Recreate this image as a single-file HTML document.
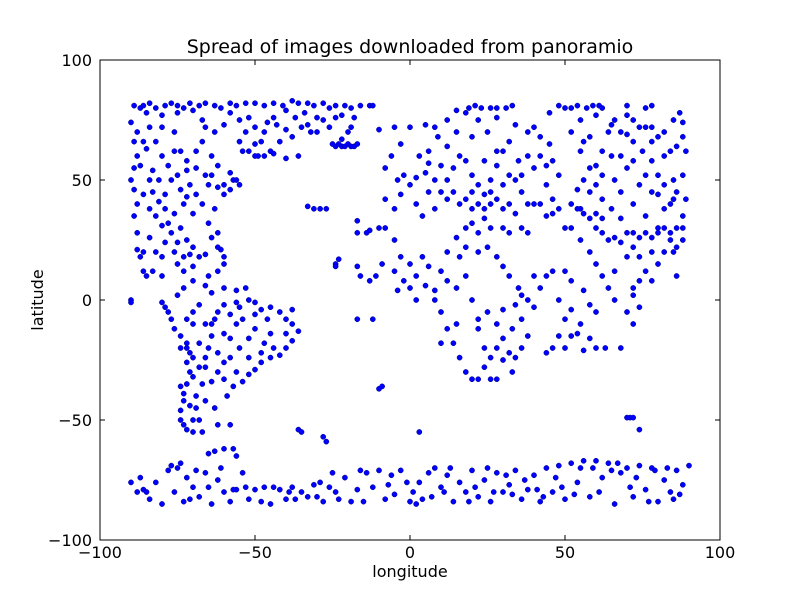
<!DOCTYPE html>
<html><head><meta charset="utf-8"><style>
html,body{margin:0;padding:0;background:#fff;}
svg{display:block;font-family:"DejaVu Sans","Liberation Sans",sans-serif;}
</style></head><body>
<svg id="chart" width="800" height="600" viewBox="0 0 800 600">
<rect x="0" y="0" width="800" height="600" fill="#fff"/>
<text x="410" y="53" text-anchor="middle" font-size="19">Spread of images downloaded from panoramio</text>
<text x="410" y="577" text-anchor="middle" font-size="16">longitude</text>
<text x="43" y="300" text-anchor="middle" font-size="16" transform="rotate(-90 43 300)">latitude</text>
<g id="points"></g>
<g id="axes"></g>
</svg>
<script>
const xTicks=[-100,-50,0,50,100];
const yTicks=[-100,-50,0,50,100];
const northBand=[[-89,81],[-87,80],[-86,81],[-84,82],[-82,80],[-79,81],[-77,82],[-75,81],[-73,80],[-71,82],[-68,81],[-66,82],[-63,81],[-61,80],[-58,82],[-56,81],[-53,82],[-50,82],[-47,81],[-44,82],[-41,81],[-38,83],[-36,82],[-33,82],[-31,81],[-28,82],[-26,80],[-24,81],[-21,81],[-19,80],[-16,81],[-13,81],[-12,81],[19,80],[21,81],[23,80],[26,80],[28,80],[31,80],[33,81],[48,81],[50,80],[52,80],[54,81],[57,80],[59,81],[61,81],[62,80],[70,81],[76,80],[78,81],
[-85,78],[-80,77],[-75,78],[-70,79],[-66,72],[-60,73],[-55,75],[-50,72],[-47,70],[-43,73],[-40,71],[-37,76],[-33,73],[-30,70],[-28,75],[-22,77],[-19,72],[-10,71],[-5,72],[0,72],[5,73],[12,75],[15,79],[18,78],[22,75],[28,76],[34,73],[40,72],[45,78],[55,75],[60,77],[65,73],[70,77],[72,75],[78,72],[85,75],[88,74],[82,70],[87,78]];
const northAmerica=[[-90,74],[-89,66],[-88,60],[-89,55],[-90,50],[-89,46],[-88,40],[-89,35],[-88,28],[-88,21],[-87,18],[-86,12],[-85,10],[-90,0],[-90,-1],[-88,70],[-87,56],
[-84,72],[-82,66],[-80,60],[-83,54],[-81,50],[-79,44],[-84,38],[-82,35],[-80,31],[-77,28],[-79,24],[-76,20],[-83,12],[-80,10],[-76,70],[-74,62],[-72,58],[-75,52],[-71,48],[-73,40],[-70,36],[-74,30],[-72,25],[-68,18],[-70,14],[-65,10],[-67,66],[-64,60],[-66,52],[-62,47],[-60,44],[-63,38],[-65,32],[-62,22],[-60,18],[-57,50],[-55,48],[-58,53],[-67,75],[-63,70],[-69,62],[-78,56],[-86,44],[-77,50],[-72,43],[-69,55],[-65,48],[-71,19],[-66,19],[-61,21],[-60,15],[-62,12],[-75,15],[-73,12],
[-53,70],[-50,65],[-47,60],[-45,62],[-42,66],[-40,59],[-38,68],[-35,72],[-32,70],[-30,76],[-46,74],[-52,62],[-55,66],
[-25,65],[-24,64],[-23,65],[-22,64],[-21,64],[-20,65],[-19,64],[-18,64],[-17,65],[-22,67],[-20,70],
[-33,39],[-31,38],[-29,38],[-27,38],[-17,33],[-17,28],[-14,28],[-13,29],[-10,30],[-24,15],[-23,17],[-24,14],[-17,14],[-16,10],[-13,8],
[-85,63],[-83,45],[-81,41],[-79,38],[-76,36],[-74,46],[-72,54],[-69,44],[-67,40],[-64,52],[-62,56],[-60,48],[-58,46],[-56,50],[-54,62],[-49,60],[-44,61],[-36,60],[-75,24],[-73,18],[-70,22],[-80,18],[-82,20],[-86,20],[-84,26],[-78,32],[-62,28],[-64,26],[-76,62],[-80,72],[-86,66],[-84,50],[-58,78],[-52,76],[-44,76],[-40,79],[-34,78],[-26,72],[-24,76],[-18,76],[-48,66],[-50,60]];
const southAmerica=[[-80,-1],[-79,-3],[-78,-5],[-77,-8],[-76,-12],[-74,-15],[-72,-18],[-71,-22],[-72,-26],[-71,-30],[-72,-35],[-73,-39],[-73,-42],[-74,-46],[-74,-50],[-73,-52],[-72,-54],[-70,-55],[-67,-55],[-68,-50],[-69,-45],[-69,-40],[-67,-35],[-68,-28],[-66,-24],[-65,-20],[-64,-15],[-66,-10],[-62,-5],[-60,-2],[-58,-6],[-55,-3],[-52,0],[-50,-1],[-48,-4],[-45,-3],[-42,-5],[-40,-8],[-38,-10],[-36,-13],[-38,-17],[-40,-20],[-42,-23],[-45,-24],[-48,-26],[-50,-29],[-52,-31],[-54,-34],[-57,-36],[-60,-33],[-62,-30],[-58,-24],[-55,-20],[-52,-16],[-50,-12],[-56,-10],[-60,-14],[-63,-8],[-70,-5],[-75,2],[-73,5],[-70,8],[-66,6],[-64,3],[-60,5],[-56,4],[-53,5],[-74,-20],[-70,-32],[-66,-42],[-63,-45],[-62,-52],[-58,-52],[-60,-62],[-63,-63],[-65,-64],[-56,-65],[-57,-62],[-70,-10],[-66,-28],[-59,-40],[-56,-30],[-47,-18],[-45,-14],[-40,-14],[-38,-4],[-36,-54],[-35,-55],[-28,-57],[-27,-59],
[-72,-20],[-70,-24],[-68,-18],[-74,-36],[-71,-44],[-70,-50],[-64,-34],[-62,-22],[-58,-16],[-54,-8],[-50,-6],[-46,-8],[-44,-20],[-60,-26],[-68,-2],[-72,-8],[-64,-10],[-56,-1],[-48,-22],[-52,-24]];
const europeAfrica=[[-8,42],[-5,38],[-3,44],[0,48],[2,51],[5,53],[8,50],[10,45],[12,42],[14,55],[16,60],[18,58],[20,52],[22,48],[24,44],[26,40],[28,56],[30,62],[32,66],[34,50],[36,45],[38,40],[40,55],[42,60],[44,48],[46,42],[48,38],[-8,55],[-6,60],[-3,65],[3,60],[6,62],[9,68],[12,64],[20,68],[25,70],[28,62],[35,58],[45,65],[48,52],
[-8,30],[-5,25],[-3,18],[0,15],[2,10],[5,6],[8,4],[10,12],[12,20],[15,26],[18,30],[20,32],[22,28],[25,22],[28,18],[30,14],[32,10],[35,5],[38,0],[40,-3],[36,-8],[33,-12],[30,-16],[28,-20],[26,-24],[24,-28],[22,-33],[20,-33],[18,-30],[16,-24],[14,-18],[12,-12],[10,-5],[8,0],[-2,8],[-5,12],[15,5],[18,10],[20,0],[22,-8],[25,-5],[28,-10],[30,-25],[33,-30],[36,-20],[38,-15],[42,5],[44,10],[46,12],[48,-15],[46,-20],[44,-22],[15,-10],[-11,10],[-9,15],[-12,-8],[-10,-37],[-9,-36],[-17,-8],[3,-55],
[16,40],[18,42],[20,38],[22,40],[24,38],[26,45],[28,42],[30,38],[32,40],[34,36],[20,45],[14,45],[12,50],[6,45],[2,40],[-2,52],[4,35],[8,38],[40,40],[42,40],[44,35],[46,36],[50,30],[38,28],[36,30],[32,28],[30,30],[26,30],[24,34],[22,20],[18,22],[16,18],[12,8],[6,14],[4,18],[0,5],[-4,4],[2,0],[10,-18],[24,-20],[26,-33],[28,-33],[32,-22],[34,-24],[22,-12],[30,-4],[34,-2],[36,2],[40,10],[-4,50],[6,57],[10,56],[24,58],[26,50],[30,48],[32,52],[36,52],[38,60],[44,56],[46,58],[42,68],[38,70],[15,70],[8,72]];
const asia=[[52,70],[55,62],[58,55],[60,48],[62,42],[65,38],[68,34],[70,28],[72,22],[74,18],[76,12],[78,8],[80,15],[82,20],[84,25],[86,30],[88,35],[85,42],[82,48],[80,52],[78,58],[75,62],[72,66],[68,70],[65,60],[62,52],[58,45],[55,38],[52,30],[55,25],[58,20],[60,15],[62,10],[64,5],[66,0],[60,-5],[55,-10],[52,-15],[50,-20],[56,-21],[60,-20],[63,-20],[70,-5],[72,2],[74,-3],[72,5],[85,50],[88,52],[86,45],[89,42],[88,25],[85,20],[80,28],[76,35],[72,40],[68,45],[66,50],[70,55],[74,48],[78,45],[82,38],[86,10],[84,62],[88,68],[89,62],[80,68],[76,72],[70,69],[70,-49],[71,-49],[72,-49],[74,-54],
[52,40],[54,38],[56,36],[58,34],[60,36],[62,34],[64,25],[66,26],[68,24],[72,28],[74,26],[76,28],[78,26],[80,30],[82,30],[84,28],[86,22],[78,20],[54,46],[56,50],[60,56],[62,62],[64,70],[66,75],[58,68],[56,66],[68,60],[72,58],[76,52],[80,44],[84,40],[88,30],[50,12],[52,8],[56,4],[58,-2],[52,-4],[54,-14],[58,-16],[48,0],[50,-8],[68,-20],[72,-10],[74,8],[66,12],[70,18],[62,28],[60,30],[82,60],[86,64],[74,72],[78,66]];
const antarctic=[[-90,-76],[-87,-74],[-86,-79],[-84,-83],[-82,-76],[-80,-85],[-78,-71],[-76,-80],[-75,-70],[-73,-84],[-72,-74],[-70,-78],[-68,-82],[-66,-72],[-64,-85],[-62,-75],[-60,-80],[-58,-84],[-56,-79],[-54,-72],[-52,-83],[-50,-79],[-47,-78],[-45,-85],[-42,-79],[-40,-83],[-38,-78],[-35,-80],[-33,-82],[-31,-77],[-28,-84],[-26,-78],[-24,-80],[-21,-74],[-19,-84],[-17,-79],[-14,-72],[-12,-78],[-10,-71],[-8,-83],[-6,-73],[-3,-71],[-1,-76],[0,-84],[2,-85],[4,-83],[6,-72],[8,-70],[10,-78],[12,-73],[14,-84],[16,-76],[18,-80],[20,-71],[22,-82],[24,-75],[26,-84],[28,-72],[30,-80],[32,-77],[34,-71],[36,-83],[38,-79],[40,-73],[42,-84],[44,-70],[46,-80],[48,-69],[50,-83],[52,-68],[54,-76],[56,-67],[58,-82],[60,-67],[62,-74],[64,-68],[66,-85],[68,-72],[70,-70],[72,-82],[74,-69],[76,-79],[78,-70],[80,-84],[82,-75],[84,-80],[86,-71],[88,-77],[90,-69],
[-85,-80],[-77,-69],[-69,-71],[-57,-79],[-44,-78],[-37,-83],[-29,-76],[-23,-83],[-15,-84],[-5,-81],[3,-76],[11,-80],[19,-84],[25,-70],[33,-81],[41,-79],[47,-74],[53,-81],[59,-70],[65,-71],[71,-78],[79,-71],[85,-83],
[-88,-80],[-74,-68],[-71,-83],[-65,-78],[-61,-70],[-53,-78],[-48,-84],[-39,-80],[-30,-82],[-25,-72],[-16,-71],[-7,-77],[1,-80],[7,-82],[13,-70],[21,-78],[27,-80],[31,-73],[37,-75],[43,-82],[49,-78],[55,-70],[61,-80],[67,-68],[73,-74],[77,-84],[83,-70],[87,-81]];

const L=100,R=720,T=60,B=540;
const xs=v=>L+(v+100)/200*(R-L);
const ys=v=>B-(v+100)/200*(B-T);
const NS='http://www.w3.org/2000/svg';
const pg=document.getElementById('points');
const groups=[['north-band',northBand],['north-america',northAmerica],['south-america',southAmerica],['europe-africa',europeAfrica],['asia',asia],['antarctic',antarctic]];
groups.forEach(([name,arr])=>{
  arr.forEach(p=>{
    const c=document.createElementNS(NS,'circle');
    c.setAttribute('cx',xs(p[0]));c.setAttribute('cy',ys(p[1]));c.setAttribute('r',2.6);
    c.setAttribute('fill','#0000ff');c.setAttribute('stroke','#00008b');c.setAttribute('stroke-width','0.5');
    
    
    pg.appendChild(c);
  });
});
const ax=document.getElementById('axes');
const fr=document.createElementNS(NS,'rect');
fr.setAttribute('x',L);fr.setAttribute('y',T);fr.setAttribute('width',R-L);fr.setAttribute('height',B-T);
fr.setAttribute('fill','none');fr.setAttribute('stroke','#000');fr.setAttribute('stroke-width','1');


ax.appendChild(fr);
function line(x1,y1,x2,y2,name){const l=document.createElementNS(NS,'line');l.setAttribute('x1',x1);l.setAttribute('y1',y1);l.setAttribute('x2',x2);l.setAttribute('y2',y2);l.setAttribute('stroke','#000');


ax.appendChild(l);}
function txt(x,y,s,anchor,name){const t=document.createElementNS(NS,'text');t.setAttribute('x',x);t.setAttribute('y',y);t.setAttribute('text-anchor',anchor);t.setAttribute('font-size','16');t.textContent=s;


ax.appendChild(t);}
const fmt=v=>v<0?'\u2212'+Math.abs(v):String(v);
xTicks.forEach(v=>{const x=xs(v);line(x,B,x,B-5,'x-tick');line(x,T,x,T+5,'x-tick-top');txt(x,B+18,fmt(v),'middle','x-tick-label');});
yTicks.forEach(v=>{const y=ys(v);line(L,y,L+5,y,'y-tick');line(R,y,R-5,y,'y-tick-right');txt(L-8,y+6,fmt(v),'end','y-tick-label');});
</script>
</body></html>
